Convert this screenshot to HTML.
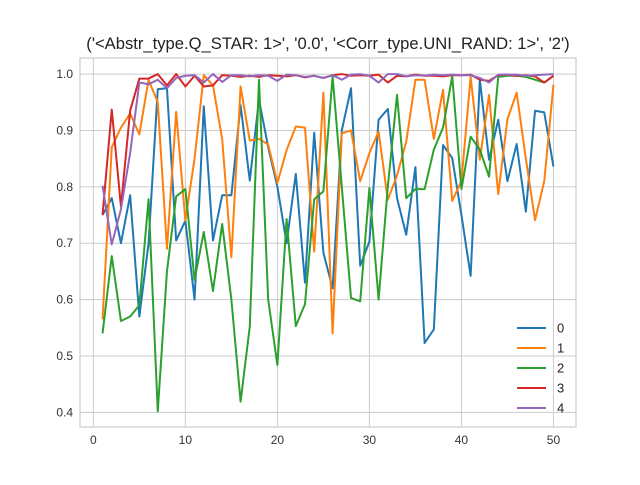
<!DOCTYPE html>
<html><head><meta charset="utf-8"><style>
body{margin:0;background:#fff;}
svg text{font-family:"Liberation Sans","DejaVu Sans",sans-serif;}
</style></head><body>
<svg id="chart" width="640" height="480" xmlns="http://www.w3.org/2000/svg">
<rect x="0" y="0" width="640" height="480" fill="#fff"/>
<text x="328" y="49" text-anchor="middle" font-size="16.6" fill="#222">('&lt;Abstr_type.Q_STAR: 1&gt;', '0.0', '&lt;Corr_type.UNI_RAND: 1&gt;', '2')</text>
<g id="grid"></g><g id="series"></g><g id="legend"></g>
<rect x="80" y="58" width="496" height="369" fill="none" stroke="#cccccc" stroke-width="1.2"/>
</svg>
<script>
const xTicks=[0,10,20,30,40,50];
const yTicks=[0.4,0.5,0.6,0.7,0.8,0.9,1.0];
const yTickLabels=["0.4","0.5","0.6","0.7","0.8","0.9","1.0"];
const seriesNames=["0","1","2","3","4"];
const s0=[0.75,0.78,0.70,0.785,0.57,0.70,0.973,0.975,0.705,0.74,0.60,0.943,0.705,0.785,0.785,0.945,0.811,0.955,0.87,0.80,0.70,0.823,0.63,0.896,0.683,0.62,0.90,0.975,0.66,0.703,0.919,0.938,0.78,0.715,0.835,0.523,0.547,0.874,0.851,0.75,0.642,0.99,0.848,0.919,0.81,0.876,0.756,0.935,0.932,0.836];
const s1=[0.565,0.87,0.905,0.93,0.893,0.99,0.95,0.69,0.933,0.74,0.85,0.998,0.98,0.885,0.675,0.978,0.882,0.885,0.875,0.807,0.865,0.907,0.905,0.685,0.967,0.54,0.895,0.90,0.81,0.86,0.898,0.777,0.82,0.88,0.99,0.99,0.885,0.972,0.775,0.81,0.995,0.848,0.963,0.787,0.92,0.967,0.85,0.741,0.81,0.981];
const s2=[0.54,0.677,0.562,0.57,0.59,0.778,0.402,0.65,0.783,0.796,0.635,0.72,0.615,0.734,0.60,0.419,0.552,0.99,0.60,0.484,0.743,0.553,0.592,0.778,0.792,0.996,0.80,0.603,0.597,0.798,0.60,0.80,0.963,0.78,0.796,0.796,0.866,0.905,0.996,0.796,0.889,0.866,0.818,0.995,0.997,0.997,0.995,0.99,0.985,0.997];
const s3=[0.75,0.937,0.765,0.935,0.992,0.992,1.0,0.98,1.0,0.978,0.997,0.978,0.98,0.998,0.997,0.995,0.997,0.995,0.998,0.997,0.996,0.998,0.994,0.997,0.993,0.998,1.0,0.997,0.998,0.997,0.999,0.985,0.997,0.996,0.999,0.997,0.997,0.996,0.998,0.998,0.999,0.99,0.988,0.998,0.999,0.997,0.998,0.996,0.985,0.997];
const s4=[0.802,0.698,0.76,0.86,0.985,0.982,0.99,0.975,0.993,0.997,0.998,0.985,1.0,0.986,0.998,0.998,0.996,0.998,0.997,0.988,0.999,0.998,0.995,0.997,0.993,0.998,0.99,0.999,1.0,0.997,0.985,1.0,1.0,0.996,0.998,0.997,0.999,0.998,0.999,0.998,0.998,0.993,0.985,0.999,0.999,0.999,0.997,0.998,0.999,1.0];
const allSeries=[s0,s1,s2,s3,s4];
const colors=["#1f77b4","#ff7f0e","#2ca02c","#d62728","#9467bd"];
const L=80,R=576,T=58,B=427,XMIN=-1.45,XMAX=52.45,YMIN=0.374,YMAX=1.0285;
const xs=v=>L+(v-XMIN)/(XMAX-XMIN)*(R-L);
const ys=v=>B-(v-YMIN)/(YMAX-YMIN)*(B-T);
const NS="http://www.w3.org/2000/svg";
function mk(tag,attrs,parent){const e=document.createElementNS(NS,tag);for(const k in attrs)e.setAttribute(k,attrs[k]);parent.appendChild(e);return e;}
const grid=document.getElementById('grid');
xTicks.forEach(t=>{
 const l=mk('line',{x1:xs(t),x2:xs(t),y1:T,y2:B,stroke:'#cccccc','stroke-width':1},grid);
 
 
 const tx=mk('text',{x:xs(t),y:B+17,'text-anchor':'middle','font-size':12,fill:'#333'},grid);
 tx.textContent=String(t);
 
 
});
yTicks.forEach((t,i)=>{
 const l=mk('line',{x1:L,x2:R,y1:ys(t),y2:ys(t),stroke:'#cccccc','stroke-width':1},grid);
 
 
 const tx=mk('text',{x:L-7,y:ys(t)+4,'text-anchor':'end','font-size':12,fill:'#333'},grid);
 tx.textContent=yTickLabels[i];
 
 
});
const sg=document.getElementById('series');
allSeries.forEach((arr,si)=>{
 const pts=arr.map((v,i)=>xs(i+1).toFixed(2)+','+ys(v).toFixed(2)).join(' ');
 const p=mk('polyline',{points:pts,fill:'none',stroke:colors[si],'stroke-width':2,'stroke-linejoin':'round'},sg);
 
 
});
const lg=document.getElementById('legend');
seriesNames.forEach((n,i)=>{
 const y=328+i*20;
 const l=mk('line',{x1:517,x2:546,y1:y,y2:y,stroke:colors[i],'stroke-width':2},lg);
 
 
 const t=mk('text',{x:557,y:y+4.5,'font-size':13,fill:'#222'},lg);
 t.textContent=n;
 
 
});
</script>
</body></html>
